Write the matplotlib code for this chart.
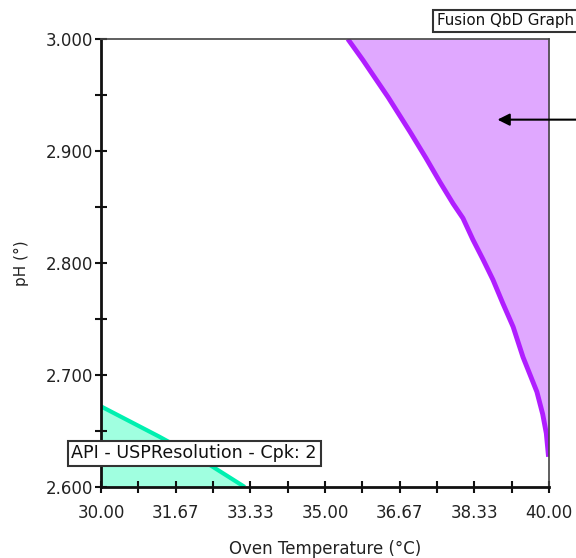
import numpy as np
import matplotlib
matplotlib.use("Agg")
import matplotlib.pyplot as plt
from matplotlib.ticker import MultipleLocator, FixedLocator

# Purple region boundary (Oven Temperature, pH)
purple_x = [35.51, 35.85, 36.07, 36.41, 36.90, 37.25, 37.57, 37.86, 38.08,
            38.30, 38.53, 38.75, 38.97, 39.20, 39.42, 39.58, 39.73, 39.86,
            39.94, 39.99]
purple_y = [3.000, 2.981, 2.968, 2.948, 2.917, 2.894, 2.872, 2.853, 2.840,
            2.821, 2.803, 2.785, 2.764, 2.743, 2.716, 2.700, 2.685, 2.665,
            2.648, 2.627]

# Green region boundary
green_x = [30.00, 31.30, 32.30, 33.21]
green_y = [2.672, 2.645, 2.623, 2.600]

x_ticks = [30.00, 31.67, 33.33, 35.00, 36.67, 38.33, 40.00]
y_ticks = [2.600, 2.700, 2.800, 2.900, 3.000]

fig = plt.figure(figsize=(5.76, 5.58), dpi=100)
ax = fig.add_axes([0.1753, 0.1272, 0.7778, 0.8029])

# purple fill: between the curve and right edge
ax.fill_betweenx(purple_y, purple_x, 40, color="#E0A8FF", lw=0)
ax.plot(purple_x, purple_y, color="#B01EFF", lw=3.5, solid_capstyle="butt")

# green fill: below the line
ax.fill_between(green_x, 2.6, green_y, color="#A0FFE0", lw=0)
ax.plot(green_x, green_y, color="#00F0B0", lw=3, solid_capstyle="butt")

ax.set_xlim(30, 40)
ax.set_ylim(2.6, 3.0)
ax.xaxis.set_major_locator(FixedLocator(np.linspace(30, 40, 7)))
ax.xaxis.set_minor_locator(FixedLocator(np.linspace(30, 40, 13)))
ax.set_xticklabels(["%.2f" % v for v in x_ticks])
ax.yaxis.set_major_locator(FixedLocator(y_ticks))
ax.yaxis.set_minor_locator(MultipleLocator(0.05))
ax.set_yticklabels(["%.3f" % v for v in y_ticks])

ax.tick_params(which="both", direction="inout", length=8, width=1.5,
               color="#111111", labelsize=12, labelcolor="#222222")
ax.tick_params(axis="x", pad=8)
ax.tick_params(axis="y", pad=2)
ax.tick_params(top=False, right=False, which="both")

for s in ["left", "bottom"]:
    ax.spines[s].set_linewidth(2)
    ax.spines[s].set_color("#111111")
for s in ["top", "right"]:
    ax.spines[s].set_linewidth(1.2)
    ax.spines[s].set_color("#444444")

ax.set_xlabel("Oven Temperature (°C)", fontsize=12, color="#222222", labelpad=13)
ax.set_ylabel("pH (°)", fontsize=11, color="#222222", labelpad=12)

# arrow coming in from the right
ax.annotate("", xy=(38.85, 2.928), xytext=(40.75, 2.928),
            arrowprops=dict(arrowstyle="-|>", color="black", lw=1.5,
                            mutation_scale=18, shrinkA=0, shrinkB=0),
            annotation_clip=False)

box = dict(boxstyle="square,pad=0.22", fc="white", ec="#333333", lw=1.5)
ax.text(29.34, 2.630, "API - USPResolution - Cpk: 2", fontsize=12.6,
        color="#111111", ha="left", va="center", bbox=box, zorder=5)
fig.text(437 / 576, 1 - 21 / 558, "Fusion QbD Graph", fontsize=10.8,
         color="#111111", ha="left", va="center",
         bbox=dict(boxstyle="square,pad=0.25", fc="white", ec="#333333", lw=1.5))

fig.savefig("out.png", dpi=100)
